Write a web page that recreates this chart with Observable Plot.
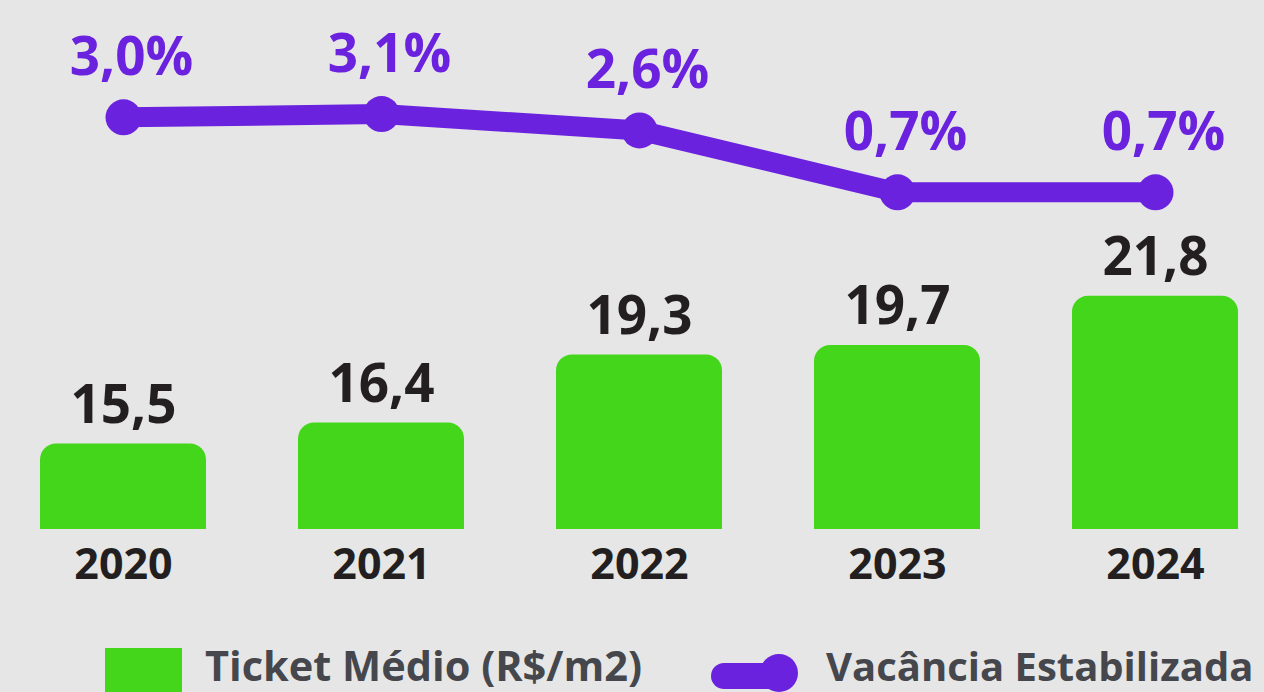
<!DOCTYPE html>
<html>
<head>
<meta charset="utf-8">
<script src="https://cdn.jsdelivr.net/npm/d3@7"></script>
<script src="https://cdn.jsdelivr.net/npm/@observablehq/plot@0.6"></script>
<style>
  html, body { margin: 0; padding: 0; background: #e6e6e6; }
  #wrap { position: relative; width: 1264px; height: 692px; overflow: hidden; background: #e6e6e6; font-family: "Open Sans", "Noto Sans", sans-serif; }
  #bars, #line { position: absolute; left: 0; top: 0; }
  #legend { position: absolute; left: 0; top: 630px; }
</style>
</head>
<body>
<div id="wrap">
  <div id="bars"></div>
  <div id="line"></div>
  <svg id="legend" width="1264" height="62"></svg>
</div>
<script>
const years = ["2020", "2021", "2022", "2023", "2024"];
const ticket = [15.5, 16.4, 19.3, 19.7, 21.8];
const ticketLabels = ["15,5", "16,4", "19,3", "19,7", "21,8"];
const vacancia = [3.0, 3.1, 2.6, 0.7, 0.7];
const vacanciaLabels = ["3,0%", "3,1%", "2,6%", "0,7%", "0,7%"];
const legendLabels = ["Ticket Médio (R$/m2)", "Vacância Estabilizada"];

const GREEN = "#43d61b";
const PURPLE = "#6a22df";
const FONT = "'Open Sans', 'Noto Sans', sans-serif";

const W = 1264, H = 610;
const base = 11.86;
const barData = years.map((y, i) => ({year: y, v: ticket[i], label: ticketLabels[i]}));
const lineData = years.map((y, i) => ({year: y, v: vacancia[i], label: vacanciaLabels[i]}));

const xScale = {type: "band", domain: years, range: [-7.9, 1285.9], paddingInner: 0.355, paddingOuter: 0.1775, align: 0.5};

const bars = Plot.plot({
  width: W, height: H,
  marginLeft: 0, marginRight: 0, marginTop: 0, marginBottom: 81,
  style: {background: "transparent", fontFamily: FONT},
  x: {...xScale, axis: null},
  y: {domain: [base, 22], range: [529, 529 - 23.47 * (22 - base)], axis: null},
  marks: [
    Plot.rectY(barData, {x: "year", y1: () => base, y2: "v", fill: GREEN, ry2: 16}),
    Plot.text(barData, {x: "year", y: "v", text: "label", dy: -21, lineAnchor: "bottom", fontSize: 53, fontWeight: "bold", fill: "#231f20"}),
    Plot.axisX({tickSize: 0, tickPadding: 19, fontSize: 43, fontWeight: "bold", color: "#231f20", label: null})
  ]
});
document.getElementById("bars").appendChild(bars);

const line = Plot.plot({
  width: W, height: H,
  marginLeft: 0, marginRight: 0, marginTop: 0, marginBottom: 0,
  style: {background: "transparent", fontFamily: FONT},
  x: {...xScale, axis: null},
  y: {domain: [0, 3.1], range: [214.7, 113.6], axis: null},
  marks: [
    Plot.line(lineData, {x: "year", y: "v", stroke: PURPLE, strokeWidth: 20, strokeLinejoin: "round"}),
    Plot.dot(lineData, {x: "year", y: "v", r: 18, fill: PURPLE}),
    Plot.text(lineData, {x: "year", y: "v", text: "label", dy: -42, dx: 8, lineAnchor: "bottom", fontSize: 53, fontWeight: "bold", fill: PURPLE})
  ]
});
document.getElementById("line").appendChild(line);

// Legend
const lg = d3.select("#legend");
lg.append("rect").attr("x", 105).attr("y", 18).attr("width", 77).attr("height", 50).attr("fill", GREEN);
lg.append("text").attr("x", 205).attr("y", 51).attr("font-family", FONT).attr("font-weight", "bold")
  .attr("font-size", 41.5).attr("fill", "#45474d").text(legendLabels[0]);
lg.append("line").attr("x1", 724).attr("x2", 775).attr("y1", 46).attr("y2", 46)
  .attr("stroke", PURPLE).attr("stroke-width", 26).attr("stroke-linecap", "round");
lg.append("circle").attr("cx", 779).attr("cy", 43).attr("r", 19).attr("fill", PURPLE);
lg.append("text").attr("x", 826).attr("y", 51).attr("font-family", FONT).attr("font-weight", "bold")
  .attr("font-size", 40).attr("fill", "#45474d").text(legendLabels[1]);
</script>
</body>
</html>
